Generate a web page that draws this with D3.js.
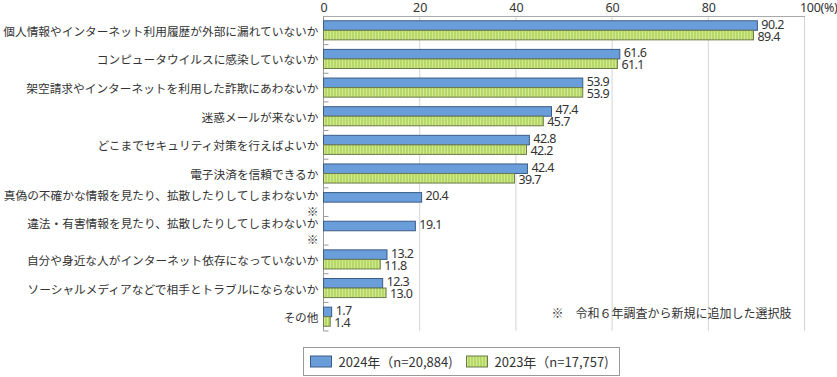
<!DOCTYPE html>
<html>
<head>
<meta charset="utf-8">
<script src="https://cdn.jsdelivr.net/npm/d3@7"></script>
<style>
  body { margin: 0; background: #fff; }
  svg { display: block; font-family: "Noto Sans CJK JP", "Noto Sans", sans-serif; }
</style>
</head>
<body>
<svg id="chart"></svg>
<script>
// data
var categories = [
  "個人情報やインターネット利用履歴が外部に漏れていないか",
  "コンピュータウイルスに感染していないか",
  "架空請求やインターネットを利用した詐欺にあわないか",
  "迷惑メールが来ないか",
  "どこまでセキュリティ対策を行えばよいか",
  "電子決済を信頼できるか",
  "真偽の不確かな情報を見たり、拡散したりしてしまわないか",
  "違法・有害情報を見たり、拡散したりしてしまわないか",
  "自分や身近な人がインターネット依存になっていないか",
  "ソーシャルメディアなどで相手とトラブルにならないか",
  "その他"
]
var newChoice = [false, false, false, false, false, false, true, true, false, false, false]
var values2024 = [90.2, 61.6, 53.9, 47.4, 42.8, 42.4, 20.4, 19.1, 13.2, 12.3, 1.7]
var values2023 = [89.4, 61.1, 53.9, 45.7, 42.2, 39.7, null, null, 11.8, 13.0, 1.4]
var seriesNames = ["2024年（n=20,884)", "2023年（n=17,757)"]
var xTicks = [0, 20, 40, 60, 80, 100]
var footnote = "※　令和６年調査から新規に追加した選択肢"

var drawChart = function(target)
{
    var screen = {width: 837, height: 377}
    var margins = {top: 16, left: 323.5, right: 32.5, bottom: 46}
    var graph = {
        width: screen.width - margins.left - margins.right,
        height: screen.height - margins.top - margins.bottom
    }

    var svg = d3.select(target)
        .attr("width", screen.width)
        .attr("height", screen.height)

    var defs = svg.append("defs")
    var pat = defs.append("pattern")
        .attr("id", "stripes")
        .attr("patternUnits", "userSpaceOnUse")
        .attr("width", 3)
        .attr("height", 10)
    pat.append("rect").attr("width", 3).attr("height", 10).attr("fill", "#d3e98f")
    pat.append("rect").attr("x", 2).attr("width", 1).attr("height", 10).attr("fill", "#97c640")

    var g = svg.append("g")
        .attr("transform", "translate(" + margins.left + "," + margins.top + ")")

    var xScale = d3.scaleLinear()
        .domain([0, 100])
        .range([0, graph.width])

    var yScale = d3.scaleBand()
        .domain(d3.range(categories.length))
        .range([0, graph.height])

    var inner = d3.scaleBand()
        .domain([0, 1])
        .range([0, yScale.bandwidth()])
        .paddingOuter(0.5)

    // gridlines
    g.append("g")
        .selectAll("line")
        .data(xTicks.slice(1))
        .enter()
        .append("line")
        .attr("x1", function(d) { return xScale(d) })
        .attr("x2", function(d) { return xScale(d) })
        .attr("y1", 0)
        .attr("y2", graph.height)
        .attr("stroke", "#d4d4d4")
        .attr("stroke-width", 1)

    // top axis
    var xAxis = g.append("g")
        .call(d3.axisTop(xScale)
            .tickValues(xTicks)
            .tickSize(0)
            .tickPadding(4)
            .tickFormat(function(d) { return d == 100 ? "100(%)" : d }))
    xAxis.select(".domain").attr("stroke", "#aaa")
    xAxis.selectAll("text")
        .attr("font-size", 12.5)
        .attr("fill", "#333")
        .attr("font-family", "Noto Sans, sans-serif")
    xAxis.selectAll(".tick")
        .filter(function(d) { return d == 100 })
        .select("text")
        .attr("text-anchor", "end")
        .attr("letter-spacing", -0.3)
        .attr("x", margins.right)

    // left axis line with inward ticks at the row boundaries
    var bounds = d3.range(categories.length + 1).map(function(i) { return i * yScale.step() })
    g.append("line")
        .attr("x1", 0).attr("x2", 0)
        .attr("y1", 0).attr("y2", graph.height)
        .attr("stroke", "#999")
    g.append("g")
        .selectAll("line")
        .data(bounds.slice(1))
        .enter()
        .append("line")
        .attr("x1", 0).attr("x2", 5)
        .attr("y1", function(d) { return d }).attr("y2", function(d) { return d })
        .attr("stroke", "#999")

    // bars
    var rows = g.selectAll(".row")
        .data(categories)
        .enter()
        .append("g")
        .classed("row", true)
        .attr("transform", function(d, i) { return "translate(0," + yScale(i) + ")" })

    var barData = function(d, i)
    {
        return [{s: 0, v: values2024[i]}, {s: 1, v: values2023[i]}]
            .filter(function(b) { return b.v != null })
    }

    rows.selectAll("rect")
        .data(barData)
        .enter()
        .append("rect")
        .attr("x", 0)
        .attr("y", function(b) { return inner(b.s) })
        .attr("width", function(b) { return xScale(b.v) })
        .attr("height", inner.bandwidth())
        .attr("fill", function(b) { return b.s == 0 ? "#6a9edb" : "url(#stripes)" })
        .attr("stroke", function(b) { return b.s == 0 ? "#3b5c86" : "#6b7a4a" })
        .attr("stroke-width", 1)

    rows.selectAll(".val")
        .data(barData)
        .enter()
        .append("text")
        .classed("val", true)
        .attr("x", function(b) { return xScale(b.v) + 4 })
        .attr("y", function(b) { return inner(b.s) + inner.bandwidth() / 2 + (b.s == 0 ? -1.5 : 1) })
        .attr("dominant-baseline", "central")
        .attr("font-size", 12.5)
        .attr("letter-spacing", -0.6)
        .attr("fill", "#333")
        .attr("font-family", "Noto Sans, sans-serif")
        .text(function(b) { return b.v.toFixed(1) })

    // category labels
    rows.append("text")
        .attr("x", -5)
        .attr("y", function(d, i) { return newChoice[i] ? yScale.bandwidth() / 2 - 8 : yScale.bandwidth() / 2 })
        .attr("text-anchor", "end")
        .attr("dominant-baseline", "central")
        .attr("font-size", 11.7)
        .attr("fill", "#333")
        .text(function(d) { return d })
    rows.filter(function(d, i) { return newChoice[i] })
        .append("text")
        .attr("x", -5)
        .attr("y", yScale.bandwidth() / 2 + 8)
        .attr("text-anchor", "end")
        .attr("dominant-baseline", "central")
        .attr("font-size", 11.7)
        .attr("fill", "#333")
        .text("※")

    // footnote
    g.append("text")
        .attr("x", xScale(47.4))
        .attr("y", yScale(10) + 10)
        .attr("dominant-baseline", "central")
        .attr("font-size", 12)
        .attr("fill", "#333")
        .text(footnote)

    // legend
    var legend = svg.append("g")
        .attr("transform", "translate(303.5,347.5)")
    legend.append("rect")
        .attr("width", 316)
        .attr("height", 28)
        .attr("fill", "#fff")
        .attr("stroke", "#999")
    var items = legend.selectAll(".item")
        .data(seriesNames)
        .enter()
        .append("g")
        .classed("item", true)
        .attr("transform", function(d, i) { return "translate(" + (7 + i * 156) + ",0)" })
    items.append("rect")
        .attr("y", 8.5)
        .attr("width", 21)
        .attr("height", 11)
        .attr("fill", function(d, i) { return i == 0 ? "#6a9edb" : "url(#stripes)" })
        .attr("stroke", function(d, i) { return i == 0 ? "#3b5c86" : "#6b7a4a" })
    items.append("text")
        .attr("x", 28)
        .attr("y", 14)
        .attr("dominant-baseline", "central")
        .attr("font-size", 13)
        .attr("fill", "#333")
        .text(function(d) { return d })
}

drawChart("#chart")
</script>
</body>
</html>
